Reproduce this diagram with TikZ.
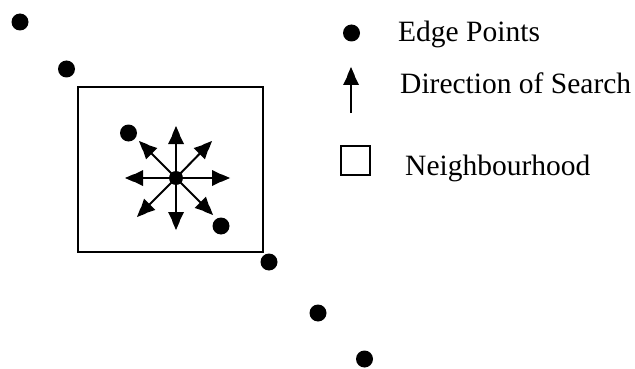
\documentclass[tikz,border=0pt]{standalone}
\usepackage{fontspec}
\setmainfont{Liberation Serif}
\tikzset{
  edgept/.style={circle, fill=black, inner sep=0pt, minimum size=17pt},
  centrept/.style={circle, fill=black, inner sep=0pt, minimum size=14pt},
  shaft/.style={line width=2pt, shorten >=5pt},
  pics/pinhead/.style={code={
    \fill (0,0) -- (-8,-3.5) -- (-10,-4) -- (-18,-8) -- (-18,8)
      -- (-10,4) -- (-8,3.5) -- cycle;}},
  nbhd/.style={draw, line width=2pt},
  legendtext/.style={anchor=base west, inner sep=0pt,
    font=\fontsize{29.5pt}{32pt}\selectfont},
}
\begin{document}
\begin{tikzpicture}[x=1pt, y=-1pt]
  \useasboundingbox (0,0) rectangle (635,369);

  % neighbourhood window
  \node[nbhd, minimum width=185pt, minimum height=165pt, inner sep=0pt]
    (win) at (170.5,169.5) {};

  % edge points along the contour
  \node[edgept] (p1) at (20,22) {};
  \node[edgept] (p2) at (66.5,69) {};
  \node[edgept] (p3) at (128.5,133) {};
  \node[edgept] (p5) at (221,226) {};
  \node[edgept] (p6) at (269,262) {};
  \node[edgept] (p7) at (318,313) {};
  \node[edgept] (p8) at (364.5,359) {};

  % search directions from the current point (angles measured on the page)
  \coordinate (c) at (176,178);
  \coordinate (dN)  at (176,126);
  \coordinate (dS)  at (176,230);
  \coordinate (dW)  at (125,178);
  \coordinate (dE)  at (230,178);
  \coordinate (dNE) at (212,141);
  \coordinate (dNW) at (139,141);
  \coordinate (dSW) at (137,217);
  \coordinate (dSE) at (213,215);
  \foreach \d/\a in {dN/90,dS/270,dW/180,dE/0,dNE/45,dNW/135,dSW/225,dSE/315}{
    \draw[shaft] (c) -- (\d);
    \pic[rotate=\a] at (\d) {pinhead};
  }
  \node[centrept] (p4) at (c) {};

  % legend
  \node[edgept] (kdot) at (351.5,33) {};
  \node[legendtext] (tdot) at (398,41.5) {Edge Points};
  \coordinate (kbase) at (351,113);
  \coordinate (ktip) at (351,67);
  \draw[shaft] (kbase) -- (ktip);
  \pic[rotate=90] at (ktip) {pinhead};
  \node[legendtext] (tarrow) at (400,93) {Direction of Search};
  \node[nbhd, minimum size=29pt, inner sep=0pt] (kbox) at (355,160) {};
  \node[legendtext] (tbox) at (405,175) {Neighbourhood};
\end{tikzpicture}
\end{document}
